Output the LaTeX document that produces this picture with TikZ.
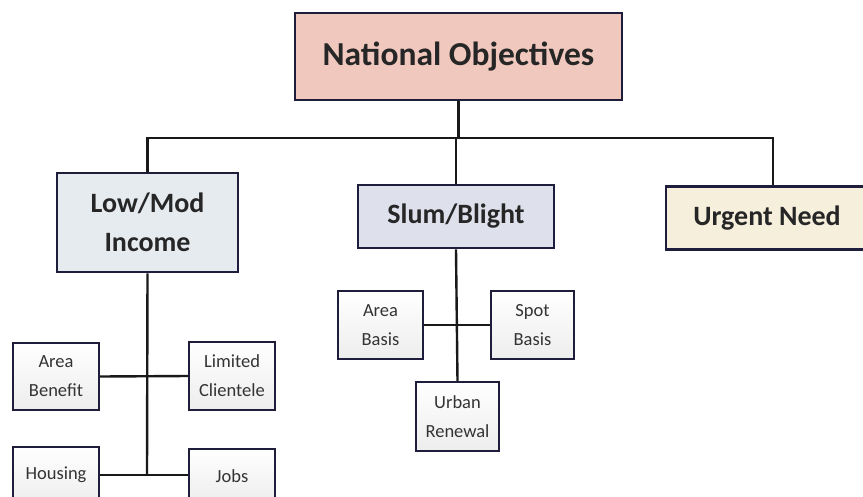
\documentclass[tikz,border=0pt]{standalone}
\usepackage{fontspec}
\setmainfont{Carlito}
\usepackage{tikz}
\definecolor{edgeblue}{HTML}{1E1E3C}
\definecolor{natfill}{HTML}{F0C8BE}
\definecolor{lowfill}{HTML}{E6EBF0}
\definecolor{slumfill}{HTML}{DEE0EC}
\definecolor{urgfill}{HTML}{F6EFDC}
\definecolor{smalltext}{HTML}{333333}
\tikzset{
  bigbox/.style={draw=edgeblue,line width=2.6pt,align=center,inner sep=0pt,
    font=\bfseries\fontsize{28}{39}\selectfont,text=black!85},
  smallbox/.style={draw=edgeblue,line width=2.4pt,align=center,inner sep=0pt,
    top color=white,bottom color=gray!14,
    font=\fontsize{18.5}{29}\selectfont,text=smalltext},
  link/.style={line width=2.4pt,black!90}
}
\begin{document}
\begin{tikzpicture}[x=1pt,y=-1pt]
        \useasboundingbox[fill=white](0,0)rectangle(863,496);
        % top box
        \node[bigbox,fill=natfill,minimum width=327,minimum height=87,
          font=\bfseries\fontsize{33.5}{38}\selectfont](nat)at(458.5,56.5){National Objectives};
        % three objectives
        \node[bigbox,fill=lowfill,minimum width=181,minimum height=99](lowmod)at(147.5,222.5){Low/Mod\\Income};
        \node[bigbox,fill=slumfill,minimum width=196,minimum height=63](slum)at(456,216.5){Slum/Blight};
        \node[bigbox,fill=urgfill,minimum width=202,minimum height=63](urgent)at(767,218){Urgent Need};
        % low/mod sub boxes
        \node[smallbox,minimum width=86,minimum height=67](areaben)at(56,376.5){Area\\Benefit};
        \node[smallbox,minimum width=86,minimum height=68](limited)at(232,376){Limited\\Clientele};
        \node[smallbox,minimum width=86,minimum height=56](housing)at(56,475){Housing};
        \node[smallbox,minimum width=86,minimum height=54](jobs)at(232,476){Jobs};
        % slum/blight sub boxes
        \node[smallbox,minimum width=85,minimum height=68](areab)at(380.5,325){Area\\Basis};
        \node[smallbox,minimum width=83,minimum height=68](spot)at(532.5,325){Spot\\Basis};
        \node[smallbox,minimum width=83,minimum height=69](urban)at(457.5,416.5){Urban\\Renewal};
        % bus under the top box
        \coordinate(busR)at(773,138);
        \coordinate(lmhub)at(147,475);
        \draw[link](nat.south)--(nat.south|-busR);
        \draw[link](lowmod.north)|-(busR)--(busR|-urgent.north);
        \draw[link](slum.north)--(slum.north|-busR);
        % low/mod tree
        \draw[link](lowmod.south)--(lmhub);
        \draw[link](areaben.east)--(limited.west);
        \draw[link](housing.east|-lmhub)--(jobs.west|-lmhub);
        % slum/blight tree
        \draw[link](slum.south)--(urban.north);
        \draw[link](areab.east)--(spot.west);
\end{tikzpicture}
\end{document}
